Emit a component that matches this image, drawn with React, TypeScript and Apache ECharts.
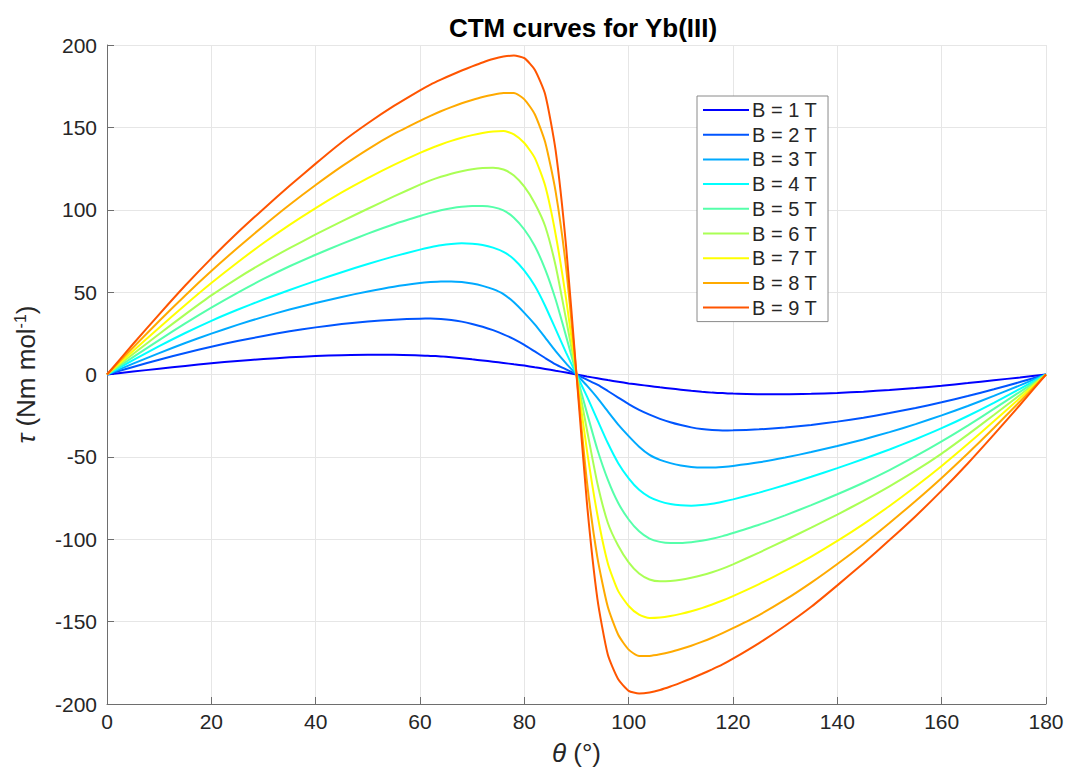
import React, { useEffect, useRef } from "react";
import * as echarts from "echarts";

const theta = [0,5,10,15,20,25,30,35,40,45,50,55,60,62,64,66,68,70,72,74,76,78,80,82,84,86,88,90,92,94,96,98,100,102,104,106,108,110,112,114,116,118,120,125,130,135,140,145,150,155,160,165,170,175,180];

const b1 = [0,1.8,3.5,5.2,6.8,8.2,9.4,10.4,11.2,11.7,12,12,11.6,11.3,11,10.5,9.9,9.2,8.5,7.8,7,6.2,5.4,4.4,3.4,2.3,1.2,0,
  -1.2,-2.3,-3.4,-4.4,-5.4,-6.2,-7,-7.8,-8.5,-9.2,-9.9,-10.5,-11,-11.3,-11.6,-12,-12,-11.7,-11.2,-10.4,-9.4,-8.2,-6.8,-5.2,-3.5,-1.8,0];
const b2 = [0,4.6,9,13.1,16.9,20.3,23.4,26.2,28.6,30.6,32.2,33.3,33.9,34,33.7,33.1,32.1,30.7,29,26.9,24.4,21.5,18,14,10,6.2,3.1,0,
  -3.1,-6.2,-10,-14,-18,-21.5,-24.4,-26.9,-29,-30.7,-32.1,-33.1,-33.7,-34,-33.9,-33.3,-32.2,-30.6,-28.6,-26.2,-23.4,-20.3,-16.9,-13.1,-9,-4.6,0];
const b3 = [0,6.6,13,19.1,24.8,30.1,35,39.4,43.4,47.1,50.4,53.3,55.5,56.1,56.5,56.5,56.1,55.2,53.8,51.8,48.8,43.8,37.4,30.4,22.4,14.2,6.8,0,
  -6.8,-14.2,-22.4,-30.4,-37.4,-43.8,-48.8,-51.8,-53.8,-55.2,-56.1,-56.5,-56.5,-56.1,-55.5,-53.3,-50.4,-47.1,-43.4,-39.4,-35,-30.1,-24.8,-19.1,-13,-6.6,0];
const b4 = [0,8.7,17.2,25.2,32.6,39.3,45.5,51.3,56.8,62.1,67.1,71.7,75.8,77.2,78.4,79.2,79.6,79.4,78.6,77,74.4,70,63,53.8,41.6,27.5,13.3,0,
  -13.3,-27.5,-41.6,-53.8,-63,-70,-74.4,-77,-78.6,-79.4,-79.6,-79.2,-78.4,-77.2,-75.8,-71.7,-67.1,-62.1,-56.8,-51.3,-45.5,-39.3,-32.6,-25.2,-17.2,-8.7,0];
const b5 = [0,10.5,20.9,31,40.6,49.6,58,65.7,72.7,79.3,85.5,91.2,96.2,98.1,99.7,100.9,101.8,102.3,102.3,101.6,99.6,95.2,88,78,63.8,45.5,23.3,0,
  -23.3,-45.5,-63.8,-78,-88,-95.2,-99.6,-101.6,-102.3,-102.3,-101.8,-100.9,-99.7,-98.1,-96.2,-91.2,-85.5,-79.3,-72.7,-65.7,-58,-49.6,-40.6,-31,-20.9,-10.5,0];
const b6 = [0,12.4,24.6,36.5,48,58.4,67.9,76.7,85,93,100.6,108.1,115.2,117.8,120,121.9,123.4,124.6,125.3,125.5,124.4,120.8,114,104,90,66,33.5,0,
  -33.5,-66,-90,-104,-114,-120.8,-124.4,-125.5,-125.3,-124.6,-123.4,-121.9,-120,-117.8,-115.2,-108.1,-100.6,-93,-85,-76.7,-67.9,-58.4,-48,-36.5,-24.6,-12.4,0];
const b7 = [0,14.3,28.4,42.2,55.5,68,79.8,90.8,101,110.5,119.2,127.2,134.5,137.2,139.6,141.8,143.7,145.3,146.6,147.5,147.8,145.8,140.5,131.5,114.5,85,46,0,
  -46,-85,-114.5,-131.5,-140.5,-145.8,-147.8,-147.5,-146.6,-145.3,-143.7,-141.8,-139.6,-137.2,-134.5,-127.2,-119.2,-110.5,-101,-90.8,-79.8,-68,-55.5,-42.2,-28.4,-14.3,0];
const b8 = [0,16.4,32.5,48,62.8,76.8,90.2,103,115,126.3,136.7,146,154,157,159.8,162.3,164.6,166.6,168.4,169.8,170.8,170.9,167,158,141,111,65,0,
  -65,-111,-141,-158,-167,-170.9,-170.8,-169.8,-168.4,-166.6,-164.6,-162.3,-159.8,-157,-154,-146,-136.7,-126.3,-115,-103,-90.2,-76.8,-62.8,-48,-32.5,-16.4,0];
const b9 = [0,18.5,36.5,54,70.5,86,100.5,114.5,128,141,152.5,163,172.5,176,179,181.8,184.5,187,189.4,191.5,193,193.6,192,185,170,136,78,0,
  -78,-136,-170,-185,-192,-193.6,-193,-191.5,-189.4,-187,-184.5,-181.8,-179,-176,-172.5,-163,-152.5,-141,-128,-114.5,-100.5,-86,-70.5,-54,-36.5,-18.5,0];

const seriesNames = ["B = 1 T","B = 2 T","B = 3 T","B = 4 T","B = 5 T","B = 6 T","B = 7 T","B = 8 T","B = 9 T"];
const seriesValues = [b1,b2,b3,b4,b5,b6,b7,b8,b9];
const colors = ["#0000ff","#0055ff","#00aaff","#00ffff","#55ffaa","#aaff55","#ffff00","#ffaa00","#ff5500"];

const FONT = "'Liberation Sans', Arial, sans-serif";
const AXIS_COLOR = "#6e6e6e";
const TEXT_COLOR = "#262626";

export default function App() {
  const ref = useRef<HTMLDivElement>(null);
  useEffect(() => {
    if (!ref.current) return;
    const chart = echarts.init(ref.current, undefined, { renderer: "svg" });
    chart.setOption({
      animation: false,
      backgroundColor: "#ffffff",
      textStyle: { fontFamily: FONT },
      title: {
        text: "CTM curves for Yb(III)",
        left: 578,
        textAlign: "center",
        top: 10,
        textStyle: { fontFamily: FONT, fontSize: 26, fontWeight: "bold", color: "#000" },
      },
      grid: { left: 107, right: 23, top: 45, bottom: 66, containLabel: false },
      legend: {
        orient: "vertical",
        left: 697,
        top: 96,
        padding: [3, 11, 3, 6],
        itemGap: 2.7,
        itemWidth: 46,
        itemHeight: 2,
        icon: "rect",
        backgroundColor: "#ffffff",
        borderColor: "#8a8a8a",
        borderWidth: 1,
        borderRadius: 0,
        textStyle: { fontFamily: FONT, fontSize: 20, color: TEXT_COLOR, lineHeight: 22, padding: [0, 0, 0, -2] },
        data: seriesNames,
      },
      xAxis: {
        type: "value",
        min: 0,
        max: 180,
        interval: 20,
        name: "{i|θ} (°)",
        nameLocation: "middle",
        nameGap: 36,
        nameTextStyle: {
          fontFamily: FONT,
          fontSize: 26,
          color: TEXT_COLOR,
          rich: { i: { fontStyle: "italic", fontSize: 26, fontFamily: FONT, color: TEXT_COLOR } },
        },
        axisLine: { show: true, onZero: false, lineStyle: { color: AXIS_COLOR, width: 1 } },
        axisTick: { show: true, inside: true, length: 7, lineStyle: { color: AXIS_COLOR } },
        axisLabel: { fontFamily: FONT, fontSize: 21, color: TEXT_COLOR, margin: 7 },
        splitLine: { show: true, lineStyle: { color: "#e6e6e6", width: 1 } },
      },
      yAxis: {
        type: "value",
        min: -200,
        max: 200,
        interval: 50,
        name: "{i|τ} (Nm mol{sup|-1})",
        nameLocation: "middle",
        nameGap: 67,
        nameRotate: 90,
        nameTextStyle: {
          fontFamily: FONT,
          fontSize: 26,
          color: TEXT_COLOR,
          rich: {
            i: { fontStyle: "italic", fontSize: 26, fontFamily: FONT, color: TEXT_COLOR },
            sup: { fontSize: 16, fontFamily: FONT, color: TEXT_COLOR, verticalAlign: "top", padding: [0, 0, 12, 0] },
          },
        },
        axisLine: { show: true, onZero: false, lineStyle: { color: AXIS_COLOR, width: 1 } },
        axisTick: { show: true, inside: true, length: 7, lineStyle: { color: AXIS_COLOR } },
        axisLabel: { fontFamily: FONT, fontSize: 21, color: TEXT_COLOR, margin: 10 },
        splitLine: { show: true, lineStyle: { color: "#e6e6e6", width: 1 } },
      },
      series: seriesNames.map((name, k) => ({
        name,
        type: "line",
        data: theta.map((t, i) => [t, seriesValues[k][i]]),
        showSymbol: false,
        symbol: "none",
        smooth: 0.2,
        color: colors[k],
        lineStyle: { color: colors[k], width: 2 },
        z: 2 + k,
      })),
    });
    return () => chart.dispose();
  }, []);
  return (
    <div
      ref={ref}
      style={{ position: "fixed", left: 0, top: 0, width: 1069, height: 771, background: "#fff" }}
    />
  );
}
